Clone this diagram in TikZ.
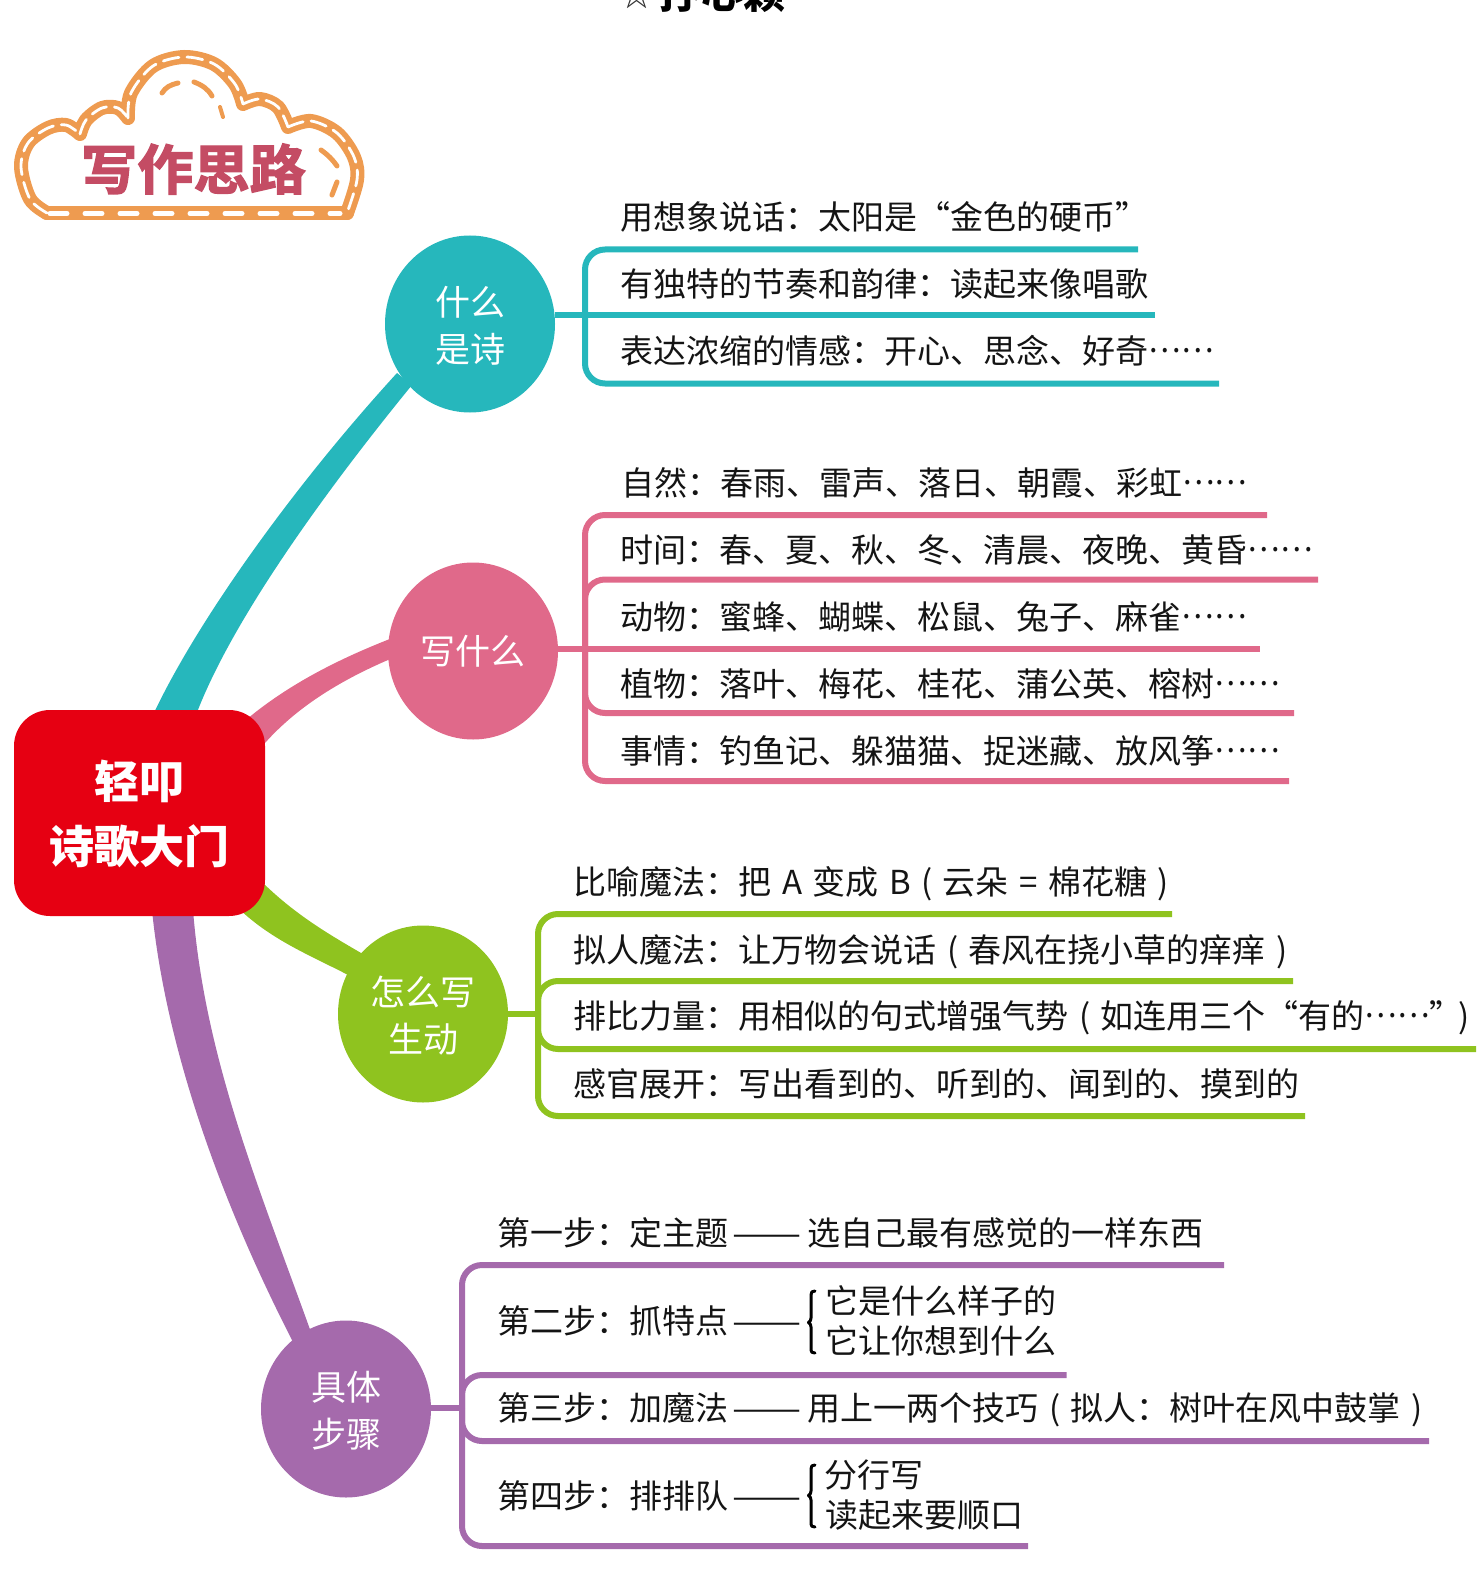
\documentclass[tikz,border=0pt]{standalone}
\usepackage{fontspec}
\setmainfont{Noto Sans CJK SC}
\usetikzlibrary{shapes.geometric}
\definecolor{cteal}{HTML}{26B7BC}
\definecolor{cpink}{HTML}{E0698A}
\definecolor{cgreen}{HTML}{8FC31F}
\definecolor{cpurple}{HTML}{A56AAC}
\definecolor{cred}{HTML}{E60012}
\definecolor{corange}{HTML}{EE9B50}
\definecolor{ccrim}{HTML}{C44C64}
\newfontface\titleface[FakeBold=2.5]{Noto Sans CJK SC Bold}
\newcommand{\dotsmid}{\raisebox{.32em}{\scalebox{.93}[1]{……}}}
\newcommand{\longdash}{\kern4pt\scalebox{1.25}[1]{——}}
\newcommand{\lblfont}{\fontsize{33}{36}\selectfont\spaceskip=10.5pt\relax}
\tikzset{
  x=1pt,y=-1pt,
  lbl/.style={anchor=base west,inner sep=0pt,outer sep=0pt,font=\lblfont,text=black!92},
  hubnode/.style={ellipse,minimum width=170pt,minimum height=177pt,inner sep=0pt,align=center,text=white,font=\fontsize{35}{47}\selectfont},
  rail/.style={line width=6pt,line cap=butt,rounded corners=20pt},
  brace/.style={draw=black,line width=3pt,line cap=round,line join=round},
  cloudline/.style={line join=round,line cap=round},
  tick/.style={draw=corange,line width=5pt,line cap=round}
}
\begin{document}
\begin{tikzpicture}
\useasboundingbox (0,0) rectangle (1479,1578);
% page heading, cut by the page edge
\node[anchor=base west,inner sep=0pt,font=\fontsize{42}{44}\selectfont\bfseries,text=black] (head) at (659,9) {抒心颖};
\node[anchor=base west,inner sep=0pt,font=\fontsize{33}{34}\selectfont,text=black!80] (star) at (620,7) {☆};
% cloud
\def\cloudpath{
  plot[smooth,tension=.55] coordinates {(47,213) (30,199) (21,167) (28,143) (48,128) (66,125) (80,134)}
  plot[smooth,tension=.55] coordinates {(80,134) (86,120) (102,108) (118,108) (128,118)}
  plot[smooth,tension=.55] coordinates {(128,118) (131,93) (153,66) (184,57) (214,64) (235,84) (243,104)}
  plot[smooth,tension=.55] coordinates {(243,104) (260,99) (278,107) (288,127)}
  plot[smooth,tension=.55] coordinates {(288,127) (311,121) (337,133) (354,157) (357,180) (347,213)}
}
\draw[cloudline,draw=corange,line width=14pt] \cloudpath;
\draw[cloudline,draw=corange,line width=14pt] (47,213.5) -- (347,213.5);
\draw[draw=white,line width=2.8pt,dash pattern=on 16pt off 8pt,line cap=round] \cloudpath;
\draw[draw=white,line width=5pt,dash pattern=on 17pt off 18pt,line cap=round] (50,213.5) -- (340,213.5);
\draw[tick] (162,93) .. controls (166,87) and (170,85) .. (178,83);
\draw[tick] (194,82) .. controls (202,85) and (208,89) .. (212,96);
\draw[draw=corange,line width=4pt,line cap=round] (220,107) -- (223,117);
\draw[tick] (321,150) .. controls (328,155) and (333,160) .. (337,166);
\draw[tick] (337,182) -- (332,195);
\node[inner sep=0pt,text=ccrim,font=\fontsize{54}{60}\titleface] (cloudtitle) at (193.5,169) {\scalebox{1.04}[1]{写作思路}};
% tapered main branches
\fill[cteal] (153,715) .. controls (195,625) and (290,490) .. (397,373) -- (412,385) .. controls (310,510) and (228,630) .. (196,715) -- cycle;
\fill[cpink] (240,725) .. controls (280,690) and (330,662) .. (395,637) -- (395,657) .. controls (340,680) and (290,710) .. (255,755) -- cycle;
\fill[cgreen] (235,905) .. controls (270,940) and (310,955) .. (352,977) -- (368,957) .. controls (330,935) and (295,915) .. (260,880) -- cycle;
\fill[cpurple] (152,910) .. controls (165,1040) and (215,1190) .. (293,1342) -- (312,1335) .. controls (260,1190) and (205,1060) .. (193,910) -- cycle;
% nodes
\node[draw=none,fill=cred,rounded corners=36pt,minimum width=251pt,minimum height=206pt,inner sep=0pt,align=center,text=white,font=\fontsize{45}{65}\selectfont\bfseries] (root) at (139.5,813) {\rule{0pt}{40pt}轻叩\\诗歌大门};
\node[hubnode,fill=cteal] (c1) at (470,324) {\rule{0pt}{32pt}什么\\是诗};
\node[hubnode,fill=cpink] (c2) at (473,651) {写什么};
\node[hubnode,fill=cgreen] (c3) at (423,1014) {\rule{0pt}{32pt}怎么写\\生动};
\node[hubnode,fill=cpurple] (c4) at (346,1409) {\rule{0pt}{33pt}具体\\步骤};
% rail ends
\coordinate (h1) at (585,315);
\coordinate (e11) at (1138,249.5);
\coordinate (e12) at (1155,315);
\coordinate (e13) at (1219,383.5);
\coordinate (h2) at (585,649);
\coordinate (e21) at (1267,515);
\coordinate (e22) at (1318,579.5);
\coordinate (e23) at (1260,649);
\coordinate (e24) at (1294,713);
\coordinate (e25) at (1289,781);
\coordinate (h3) at (538,1014);
\coordinate (e31) at (1172,914);
\coordinate (e32) at (1293,981);
\coordinate (e33) at (1476,1049);
\coordinate (e34) at (1305,1116);
\coordinate (h4) at (462,1408);
\coordinate (e41) at (1224,1265);
\coordinate (e42) at (1066.5,1375);
\coordinate (e43) at (1429,1441);
\coordinate (e44) at (1028,1546);
% rails
\draw[rail,draw=cteal] (c1.east |- h1) -- (e12);
\draw[rail,draw=cteal] (e11) -| (h1) |- (e13);
\draw[rail,draw=cpink] (c2.east |- h2) -- (e23);
\draw[rail,draw=cpink] (e21) -| (h2) |- (e25);
\draw[rail,draw=cpink] (e22) -| (h2);
\draw[rail,draw=cpink] (e24) -| (h2);
\draw[rail,draw=cgreen] (c3.east) -- (h3);
\draw[rail,draw=cgreen] (e31) -| (h3) |- (e34);
\draw[rail,draw=cgreen] (e32) -| (h3);
\draw[rail,draw=cgreen] (e33) -| (h3);
\draw[rail,draw=cpurple] (c4.east |- h4) -- (h4);
\draw[rail,draw=cpurple] (e41) -| (h4) |- (e44);
\draw[rail,draw=cpurple] (e42) -| (h4);
\draw[rail,draw=cpurple] (e43) -| (h4);
% labels
\node[lbl] (t11) at (620.5,230) {用想象说话：太阳是“金色的硬币”};
\node[lbl] (t12) at (620.5,296.5) {有独特的节奏和韵律：读起来像唱歌};
\node[lbl] (t13) at (620.5,363.5) {表达浓缩的情感：开心、思念、好奇\dotsmid};
\node[lbl] (t21) at (621,495.5) {自然：春雨、雷声、落日、朝霞、彩虹\dotsmid};
\node[lbl] (t22) at (620.5,562) {时间：春、夏、秋、冬、清晨、夜晚、黄昏\dotsmid};
\node[lbl] (t23) at (620.5,629) {动物：蜜蜂、蝴蝶、松鼠、兔子、麻雀\dotsmid};
\node[lbl] (t24) at (620.5,696) {植物：落叶、梅花、桂花、蒲公英、榕树\dotsmid};
\node[lbl] (t25) at (620.5,763) {事情：钓鱼记、躲猫猫、捉迷藏、放风筝\dotsmid};
\node[lbl] (t31) at (573.5,894.5) {比喻魔法：把 A 变成 B ( 云朵 = 棉花糖 )};
\node[lbl] (t32) at (573.5,962) {拟人魔法：让万物会说话 ( 春风在挠小草的痒痒 )};
\node[lbl] (t33) at (573.5,1028.5) {排比力量：用相似的句式增强气势 ( 如连用三个“有的\dotsmid”\kern-4pt)};
\node[lbl] (t34) at (573.5,1096) {感官展开：写出看到的、听到的、闻到的、摸到的};
\node[lbl] (t41) at (497,1245) {第一步：定主题\longdash\kern6.5pt 选自己最有感觉的一样东西};
\node[lbl] (t42) at (497,1333.5) {第二步：抓特点\longdash};
\node[lbl] (t43) at (497,1420) {第三步：加魔法\longdash\kern6.5pt 用上一两个技巧 ( 拟人：树叶在风中鼓掌 )};
\node[lbl] (t44) at (497,1508.5) {第四步：排排队\longdash};
\node[lbl] (s1) at (825.5,1313) {它是什么样子的};
\node[lbl] (s2) at (825.5,1353) {它让你想到什么};
\node[lbl] (s3) at (824,1487) {分行写};
\node[lbl] (s4) at (825.5,1527) {读起来要顺口};
% braces
\draw[brace] (815,1291) .. controls (812,1291) and (811,1292) .. (811,1295) -- (811,1318) .. controls (811,1320) and (810,1322) .. (808.5,1322.5) .. controls (810,1323) and (811,1325) .. (811,1327) -- (811,1350) .. controls (811,1352) and (812,1353) .. (815,1353);
\draw[brace] (815,1465) .. controls (812,1465) and (811,1466) .. (811,1469) -- (811,1491) .. controls (811,1493) and (810,1495) .. (808.5,1495.5) .. controls (810,1496) and (811,1498) .. (811,1500) -- (811,1524) .. controls (811,1526) and (812,1527) .. (815,1527);
\end{tikzpicture}
\end{document}
